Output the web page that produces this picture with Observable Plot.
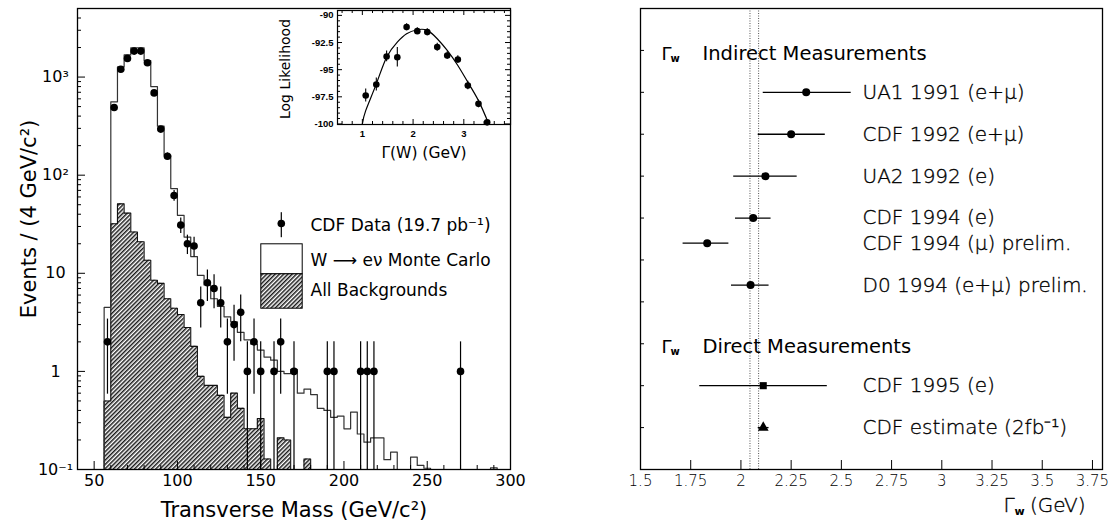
<!DOCTYPE html>
<html>
<head>
<meta charset="utf-8">
<script src="https://cdn.jsdelivr.net/npm/d3@7"></script>
<script src="https://cdn.jsdelivr.net/npm/@observablehq/plot@0.6"></script>
<style>
  html, body { margin: 0; padding: 0; background: #fff; }
  #figure { position: relative; width: 1114px; height: 522px; overflow: hidden; background: #fff; }
</style>
</head>
<body>
<!-- shared hatch fill for the background histogram -->
<svg width="0" height="0" style="position:absolute">
  <defs>
    <pattern id="hatch" patternUnits="userSpaceOnUse" width="3" height="3" patternTransform="rotate(45)">
      <rect width="3" height="3" fill="#fff"/>
      <line x1="0.75" y1="0" x2="0.75" y2="3" stroke="#1a1a1a" stroke-width="1.5"/>
    </pattern>
  </defs>
</svg>
<div id="figure"></div>
<script>
// ---------- transverse mass spectrum (4 GeV bins) ----------
const binWidth = 4;
const massBinLow = d3.range(56, 296, binWidth);
const mcEvents = [4.5, 560, 1270, 1680, 1990, 1990, 1470, 800, 316, 160,
  73, 39, 23.4, 14.8, 9.5, 7.6, 5.5, 4.6, 3.6, 3.2,
  2.5, 2.1, 1.9, 1.65, 1.4, 1.3, 1.0, 0.95, 1.05, 0.6,
  0.66, 0.58, 0.42, 0.40, 0.34, 0.35, 0.26, 0.385, 0.23, 0.19,
  0.21, 0.21, 0.126, 0.15, 0, 0, 0.134, 0.11, 0.103, 0,
  0, 0, 0, 0, 0, 0, 0, 0, 0.104, 0];
const bgEvents = [0.5, 32, 51, 41, 26.4, 21, 13.6, 8.5, 7.9, 5.5,
  4.4, 3.8, 2.8, 1.8, 0.89, 0.72, 0.72, 0.57, 0.34, 0.60,
  0.42, 0.26, 0.26, 0.33, 0.128, 0, 0.21, 0.20, 0, 0,
  0.128, 0, 0, 0, 0, 0, 0, 0, 0, 0,
  0, 0, 0, 0, 0, 0, 0, 0, 0, 0,
  0, 0, 0, 0, 0, 0, 0, 0, 0, 0];
const dataMass = [58, 62, 66, 70, 74, 78, 82, 86, 90, 94, 98, 102, 106, 110, 114, 118, 122, 126,
  130, 134, 138, 142, 146, 150, 158, 162, 170, 190, 194, 210, 214, 218, 270];
const dataCount = [2, 490, 1200, 1550, 1840, 1840, 1400, 690, 295, 156, 62, 31, 20, 19, 5, 8, 7, 5,
  2, 3, 4, 1, 2, 1, 1, 2, 1, 1, 1, 1, 1, 1, 1];

const massTicks = [50, 100, 150, 200, 250, 300];
const countTicks = [0.1, 1, 10, 100, 1000];
const countTickLabels = ["10⁻¹", "1", "10", "10²", "10³"];

// ---------- log-likelihood scan (inset) ----------
const scanWidth = [1.066, 1.275, 1.478, 1.689, 1.872, 2.083, 2.28, 2.476, 2.673, 2.882, 3.079, 3.289, 3.46];
const scanLogL = [-97.38, -96.37, -93.78, -93.85, -91.08, -91.45, -91.54, -92.92, -93.69, -94.06, -96.46, -98.15, -99.85];
const scanErr = [0.6, 0.6, 0.5, 0.9, 0.3, 0.3, 0.3, 0.35, 0.35, 0.35, 0.4, 0.35, 0.15];
const fitWidth = [1.0, 1.066, 1.275, 1.478, 1.689, 1.872, 2.083, 2.28, 2.476, 2.673, 2.882, 3.079, 3.289, 3.492];
const fitLogL = [-100, -98.77, -96.31, -93.85, -92.46, -91.69, -91.32, -91.38, -92.15, -93.23, -94.62, -96.15, -97.85, -100];
const scanXTicks = [1, 2, 3];
const scanYTicks = [-90, -92.5, -95, -97.5, -100];

// ---------- W width measurements ----------
const measLabel = ["UA1 1991 (e+μ)", "CDF 1992 (e+μ)", "UA2 1992 (e)", "CDF 1994 (e)",
  "CDF 1994 (μ) prelim.", "D0 1994 (e+μ) prelim.", "CDF 1995 (e)", "CDF estimate (2fb⁻¹)"];
const measKind = ["indirect", "indirect", "indirect", "indirect", "indirect", "indirect", "direct", "estimate"];
const measRow = [9, 8, 7, 6, 5.4, 4.4, 2, 1];
const measValue = [2.325, 2.25, 2.122, 2.061, 1.832, 2.048, 2.111, 2.111];
const measLow = [2.111, 2.086, 1.964, 1.973, 1.712, 1.953, 1.795, 2.086];
const measHigh = [2.549, 2.42, 2.28, 2.15, 1.94, 2.14, 2.43, 2.14];
const groupTitle = ["Indirect Measurements", "Direct Measurements"];
const groupRow = [9.92, 2.92];
const smBand = [2.045, 2.088];
const widthTicks = [1.5, 1.75, 2, 2.25, 2.5, 2.75, 3, 3.25, 3.5, 3.75];
const rowTicks = [1, 2, 3, 4, 5, 6, 7, 8, 9, 10];

const ink = "#000";
const font = "DejaVu Sans, sans-serif";
const figure = document.getElementById("figure");
const place = (el, left, top) => {
  el.style.position = "absolute";
  el.style.left = left + "px";
  el.style.top = top + "px";
  el.style.background = "transparent";
  el.style.overflow = "visible";
  figure.appendChild(el);
};
const label = (s, options) => Plot.text([s], {text: (d) => d, textAnchor: "middle", lineAnchor: "middle", ...options});

// ================= left panel: transverse mass =================
{
  const W = 520, H = 522, mL = 77, mR = 10, mT = 8, mB = 53;
  const fw = W - mL - mR, fh = H - mT - mB;
  const floor = 0.1;
  const lift = (v) => Math.max(v, floor);
  const steps = (values) => [
    {x: massBinLow[0], y: 0},
    ...massBinLow.map((x, i) => ({x, y: values[i]})),
    {x: massBinLow[massBinLow.length - 1] + binWidth, y: 0}
  ];
  const mcSteps = steps(mcEvents);
  const bgSteps = steps(bgEvents);
  const points = dataMass.map((m, i) => ({m, n: dataCount[i], e: Math.sqrt(dataCount[i])}));
  const minor = countTicks.flatMap((d) => d3.range(2, 10).map((k) => k * d)).filter((d) => d < 5000);
  const minorMass = d3.range(40, 301, 10).filter((d) => d % 50 !== 0);
  // legend box: left edge and right edge measured from the frame
  const boxL = 183.3, boxR = 208.3;

  const chart = Plot.plot({
    width: W, height: H, marginLeft: mL, marginRight: mR, marginTop: mT, marginBottom: mB,
    style: {fontFamily: font, color: ink},
    x: {domain: [40, 300], axis: null},
    y: {type: "log", domain: [floor, 5000], axis: null},
    marks: [
      Plot.areaY(bgSteps, {x: "x", y1: floor, y2: (d) => lift(d.y), curve: "step-after", fill: "url(#hatch)", clip: true}),
      Plot.line(bgSteps, {x: "x", y: (d) => lift(d.y), curve: "step-after", stroke: "#111", strokeWidth: 1.1, clip: true}),
      Plot.line(mcSteps, {x: "x", y: (d) => lift(d.y), curve: "step-after", stroke: "#333", strokeWidth: 1.2, clip: true}),
      Plot.ruleX(points, {x: "m", y1: (d) => lift(d.n - d.e), y2: (d) => d.n + d.e, stroke: ink, strokeWidth: 1.2, clip: true}),
      Plot.dot(points, {x: "m", y: "n", r: 3.8, fill: ink, stroke: null}),
      // inward tick marks
      Plot.tickY(countTicks, {y: (d) => d, insetRight: fw - 8, stroke: ink}),
      Plot.tickY(minor, {y: (d) => d, insetRight: fw - 4, stroke: ink}),
      Plot.tickX(massTicks, {x: (d) => d, insetTop: fh - 8, stroke: ink}),
      Plot.tickX(minorMass, {x: (d) => d, insetTop: fh - 4, stroke: ink}),
      Plot.axisY({ticks: countTicks, tickSize: 0, tickPadding: 22, textAnchor: "middle", fontSize: 16,
        tickFormat: (d) => countTickLabels[countTicks.indexOf(d)], label: null}),
      Plot.axisX({ticks: massTicks, tickSize: 0, tickPadding: 5, fontSize: 16, label: null}),
      label("Transverse Mass (GeV/c²)", {frameAnchor: "bottom", dy: 41, fontSize: 21}),
      label("Events / (4 GeV/c²)", {frameAnchor: "left", rotate: -90, dx: -48, dy: -20, fontSize: 21}),
      // legend
      Plot.frame({fill: ink, stroke: null, insetLeft: 203.2, insetRight: fw - 204.4, insetTop: 203.7, insetBottom: 232.3}),
      Plot.dot([0], {frameAnchor: "top-left", dx: 203.8, dy: 215, r: 3.8, fill: ink, stroke: null}),
      Plot.frame({fill: "#fff", stroke: ink, strokeWidth: 1, insetLeft: boxL, insetRight: boxR, insetTop: 235.3, insetBottom: 195.7}),
      Plot.frame({fill: "url(#hatch)", stroke: ink, strokeWidth: 1, insetLeft: boxL, insetRight: boxR, insetTop: 265.3, insetBottom: 161.3}),
      label("CDF Data (19.7 pb⁻¹)", {frameAnchor: "top-left", dx: 233, dy: 217, textAnchor: "start", fontSize: 17}),
      label("W ⟶ eν Monte Carlo", {frameAnchor: "top-left", dx: 233, dy: 252, textAnchor: "start", fontSize: 17}),
      label("All Backgrounds", {frameAnchor: "top-left", dx: 233, dy: 282, textAnchor: "start", fontSize: 17}),
      Plot.frame({stroke: ink, strokeWidth: 1.3})
    ]
  });
  place(chart, 0, 0);
}

// ================= inset: likelihood scan =================
{
  const W = 240, H = 170, mL = 57, mR = 10, mT = 10, mB = 46;
  const fw = W - mL - mR, fh = H - mT - mB;
  const scan = scanWidth.map((x, i) => ({x, y: scanLogL[i], e: scanErr[i]}));
  const fit = fitWidth.map((x, i) => ({x, y: fitLogL[i]}));
  const minorX = d3.range(0.6, 3.95, 0.2).filter((d) => Math.abs(d - Math.round(d)) > 0.01);
  const minorY = d3.range(-99.5, -89.5, 0.5).filter((d) => Math.abs(d / 2.5 - Math.round(d / 2.5)) > 0.01);
  const lab = {fontFamily: "Liberation Sans, sans-serif", fontWeight: "bold", fontSize: 9.5};

  const chart = Plot.plot({
    width: W, height: H, marginLeft: mL, marginRight: mR, marginTop: mT, marginBottom: mB,
    style: {fontFamily: font, color: ink},
    x: {domain: [0.51, 3.92], axis: null},
    y: {domain: [-100.05, -89.55], axis: null},
    marks: [
      Plot.frame({fill: "#fff", stroke: null}),
      Plot.line(fit, {x: "x", y: "y", curve: "natural", stroke: ink, strokeWidth: 1.2, clip: true}),
      Plot.ruleX(scan, {x: "x", y1: (d) => d.y - d.e, y2: (d) => d.y + d.e, stroke: ink, strokeWidth: 1.1, clip: true}),
      Plot.dot(scan, {x: "x", y: "y", r: 3.3, fill: ink, stroke: null}),
      Plot.tickX(scanXTicks, {x: (d) => d, insetTop: fh - 5, stroke: ink}),
      Plot.tickX(scanXTicks, {x: (d) => d, insetBottom: fh - 5, stroke: ink}),
      Plot.tickX(minorX, {x: (d) => d, insetTop: fh - 3, stroke: ink}),
      Plot.tickX(minorX, {x: (d) => d, insetBottom: fh - 3, stroke: ink}),
      Plot.tickY(scanYTicks, {y: (d) => d, insetRight: fw - 5, stroke: ink}),
      Plot.tickY(scanYTicks, {y: (d) => d, insetLeft: fw - 5, stroke: ink}),
      Plot.tickY(minorY, {y: (d) => d, insetRight: fw - 3, stroke: ink}),
      Plot.tickY(minorY, {y: (d) => d, insetLeft: fw - 3, stroke: ink}),
      Plot.axisX({ticks: scanXTicks, tickSize: 0, tickPadding: 6, label: null, tickFormat: (d) => String(d), ...lab}),
      Plot.axisY({ticks: scanYTicks, tickSize: 0, tickPadding: 4, label: null, tickFormat: (d) => String(d), ...lab}),
      label("Γ(W) (GeV)", {frameAnchor: "bottom", dy: 29, fontSize: 15.5}),
      label("Log Likelihood", {frameAnchor: "left", rotate: -90, dx: -52, dy: 1.5, fontSize: 14}),
      Plot.frame({stroke: ink, strokeWidth: 1.2})
    ]
  });
  place(chart, 280, 0);
}

// ================= right panel: W width measurements =================
{
  const W = 554, H = 522, mL = 80, mR = 12, mT = 8, mB = 53;
  const fw = W - mL - mR, fh = H - mT - mB;
  const meas = measLabel.map((label, i) => ({
    label, kind: measKind[i], row: measRow[i], value: measValue[i], lo: measLow[i], hi: measHigh[i]
  }));
  const groups = groupTitle.map((title, i) => ({title, row: groupRow[i]}));
  // light face, thickened slightly with a hairline outline
  const thin = {fontWeight: "300", fill: ink, stroke: ink, strokeWidth: 0.35};

  const chart = Plot.plot({
    width: W, height: H, marginLeft: mL, marginRight: mR, marginTop: mT, marginBottom: mB,
    style: {fontFamily: font, color: ink},
    x: {domain: [1.5, 3.8], axis: null},
    y: {domain: [0, 11], axis: null},
    symbol: {domain: ["indirect", "direct", "estimate"], range: ["circle", "square", "triangle"]},
    marks: [
      Plot.ruleX(smBand, {x: (d) => d, stroke: "#555", strokeWidth: 1, strokeDasharray: "1,1.5"}),
      Plot.ruleY(meas, {y: "row", x1: "lo", x2: "hi", stroke: ink, strokeWidth: 1.3}),
      Plot.dot(meas, {x: "value", y: "row", symbol: "kind", r: 4, fill: ink, stroke: null}),
      Plot.text(meas, {y: "row", text: "label", frameAnchor: "left", dx: 222, textAnchor: "start", lineAnchor: "middle",
        fontSize: 20, ...thin}),
      Plot.text(groups, {y: "row", text: () => "Γ", frameAnchor: "left", dx: 21, textAnchor: "start", lineAnchor: "middle", fontSize: 18}),
      Plot.text(groups, {y: "row", text: () => "w", frameAnchor: "left", dx: 30, dy: 5, textAnchor: "start", lineAnchor: "middle", fontSize: 10, fontWeight: "bold"}),
      Plot.text(groups, {y: "row", text: "title", frameAnchor: "left", dx: 62, textAnchor: "start", lineAnchor: "middle", fontSize: 19.5}),
      Plot.tickX(widthTicks, {x: (d) => d, insetTop: fh - 9, stroke: ink}),
      Plot.tickY(rowTicks, {y: (d) => d, insetRight: fw - 4, stroke: ink}),
      Plot.axisX({ticks: widthTicks, tickSize: 0, tickPadding: 6, fontSize: 15, label: null, tickFormat: (d) => String(d), ...thin, strokeWidth: 0.3}),
      label("Γ", {frameAnchor: "bottom-right", dx: -99, dy: 36, textAnchor: "start", fontSize: 20, ...thin}),
      label("w", {frameAnchor: "bottom-right", dx: -88, dy: 42, textAnchor: "start", fontSize: 11, fontWeight: "bold"}),
      label("(GeV)", {frameAnchor: "bottom-right", dx: -17, dy: 36, textAnchor: "end", fontSize: 20, ...thin}),
      Plot.frame({stroke: ink, strokeWidth: 1.3})
    ]
  });
  place(chart, 560, 0);
}
</script>
</body>
</html>
